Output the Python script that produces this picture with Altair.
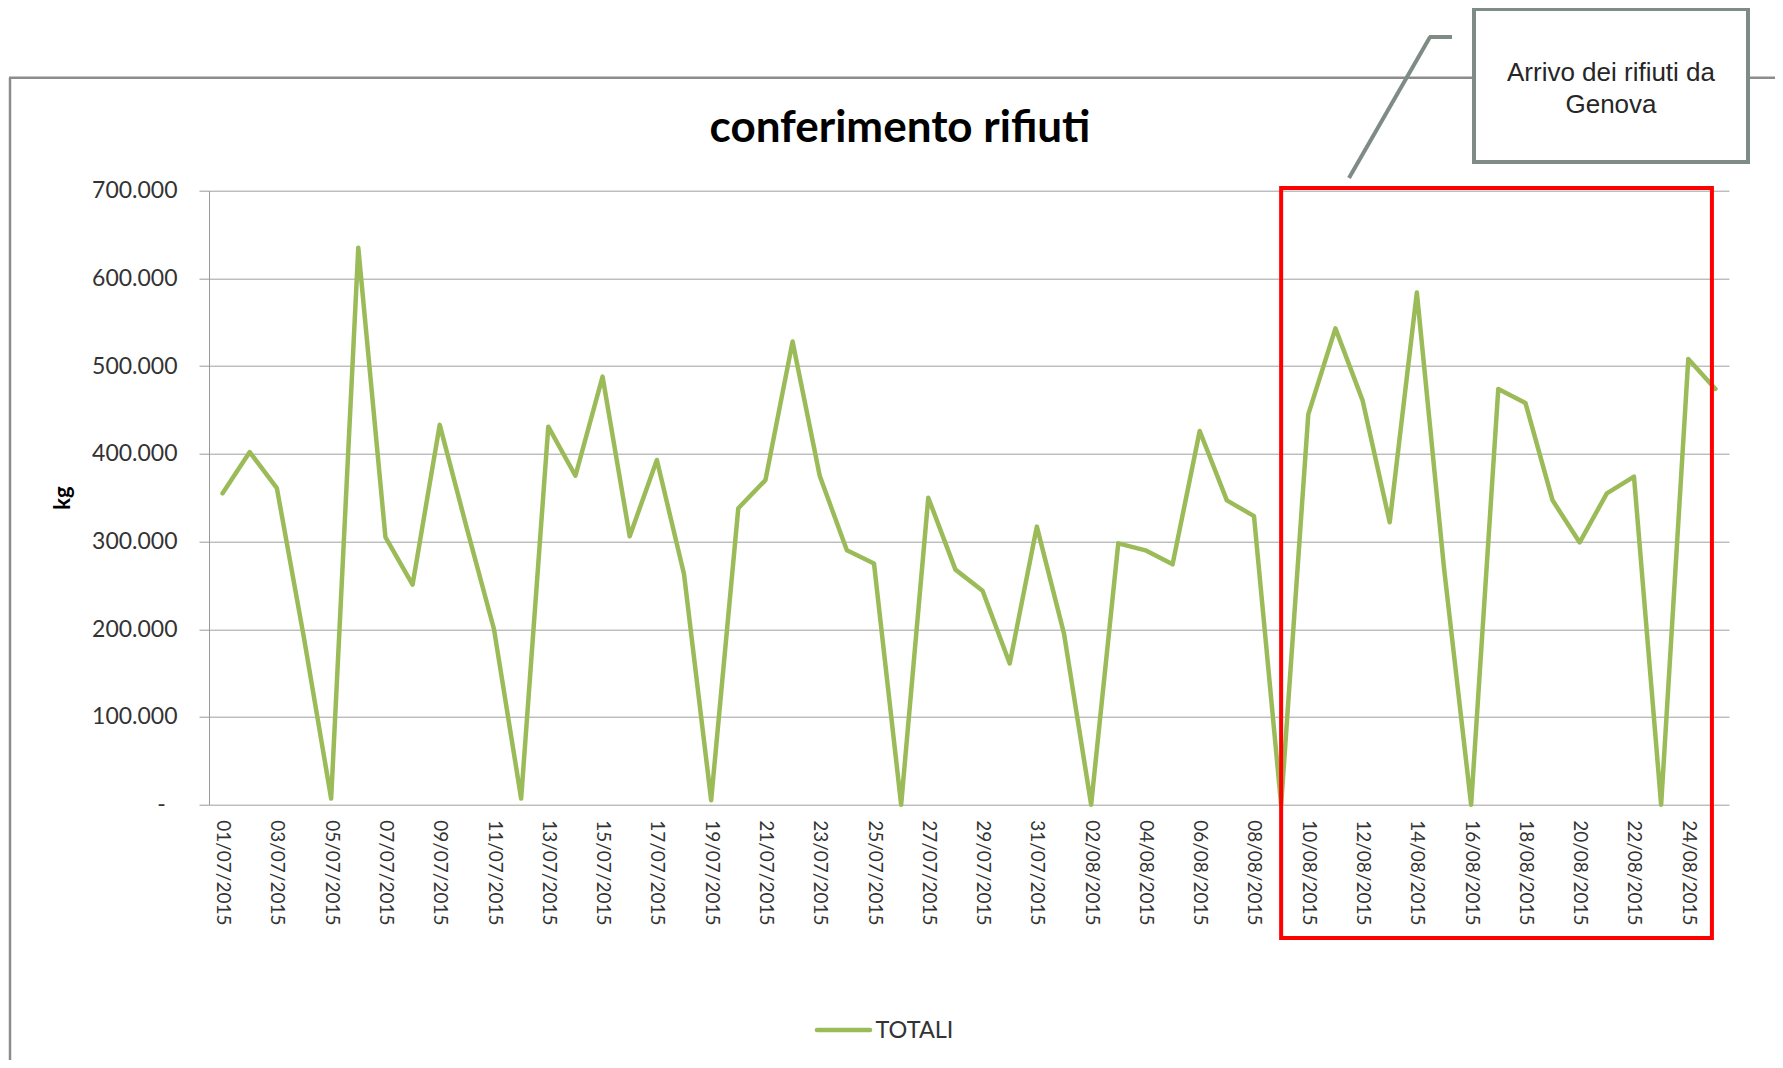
import altair as alt
import pandas as pd

# ---- data -------------------------------------------------------------
dates_july = [f"{d:02d}/07/2015" for d in range(1, 32)]
dates_august = [f"{d:02d}/08/2015" for d in range(1, 26)]
dates = dates_july + dates_august

totali_july = [355000, 402000, 361000, 190000, 7000, 635000, 305000, 251000,
               433000, 315000, 200000, 7000, 431000, 375000, 488000, 306000,
               393000, 263000, 5000, 338000, 370000, 528000, 375000, 290000,
               275000, 0, 350000, 268000, 244000, 161000, 317000]
totali_august = [195000, 0, 298000, 290000, 274000, 426000, 347000, 329000,
                 0, 445000, 543000, 461000, 322000, 584000, 270000, 0,
                 474000, 458000, 347000, 299000, 355000, 374000, 0, 508000,
                 474000]
totali = totali_july + totali_august

tick_labels = dates[::2]
y_ticks = [0, 100000, 200000, 300000, 400000, 500000, 600000, 700000]

title_text = "conferimento rifiuti"
series_name = "TOTALI"
y_title = "kg"
callout_lines = ["Arrivo dei rifiuti da", "Genova"]
highlight = {"start": "09/08/2015", "end": "25/08/2015", "top": 703000, "bottom": -152000}

df = pd.DataFrame({"data": dates, series_name: totali})
box_df = pd.DataFrame({"data": [highlight["start"]], "x2": [highlight["end"]],
                       series_name: [highlight["top"]], "y2": [highlight["bottom"]]})
one = pd.DataFrame({"k": [0]})

GREEN = "#9BBB59"
GREY = "#7F8B85"
FONT = "Lato"

x_scale = alt.Scale(type="point", padding=0.5, domain=dates)
y_scale = alt.Scale(domain=[0, 700000], nice=False, zero=True)

x_axis = alt.Axis(values=tick_labels, labelAngle=90, domain=False, ticks=False,
                  grid=False, labelPadding=15, labelFont=FONT, labelFontSize=19,
                  labelColor="#333333", labelOverlap=False, labelFlush=False,
                  title=None)
y_axis = alt.Axis(values=y_ticks,
                  labelExpr="datum.value == 0 ? '-\u00a0\u00a0\u200b' : format(datum.value / 1000, '.0f') + '.000'",
                  labelFont=FONT, labelFontSize=23, labelColor="#333333",
                  labelPadding=22, tickSize=10, tickColor="#999999",
                  domainColor="#999999", gridColor="#A0A0A0", gridWidth=1,
                  grid=True, title=y_title, titleFont=FONT, titleFontSize=22,
                  titleFontWeight="bold", titleColor="#000000",
                  titleX=-146.5, titleY=307, titleAngle=270,
                  titleAlign="center", titleBaseline="middle")

line = alt.Chart(df).mark_line(
    color=GREEN, strokeWidth=4.5, strokeJoin="round", strokeCap="round"
).encode(
    x=alt.X("data:O", sort=dates, scale=x_scale, axis=x_axis),
    y=alt.Y(f"{series_name}:Q", scale=y_scale, axis=y_axis),
)

red_box = alt.Chart(box_df).mark_rect(
    fillOpacity=0, stroke="#FF0000", strokeWidth=4, x2Offset=-3.5
).encode(
    x=alt.X("data:O", sort=dates, scale=x_scale, axis=x_axis),
    x2="x2",
    y=alt.Y(f"{series_name}:Q", scale=y_scale, axis=y_axis),
    y2="y2",
)

border_left = alt.Chart(one).mark_rule(color="#8C8C8C", strokeWidth=2.5).encode(
    x=alt.value(-199), y=alt.value(-113), y2=alt.value(880))
border_top = alt.Chart(one).mark_rule(color="#8C8C8C", strokeWidth=2.5).encode(
    x=alt.value(-200), x2=alt.value(1580), y=alt.value(-113))

title = alt.Chart(one).mark_text(
    text=title_text, font=FONT, fontSize=44, fontWeight="bold", color="#000000",
    align="center", baseline="alphabetic"
).encode(x=alt.value(691), y=alt.value(-49))

leader1 = alt.Chart(one).mark_rule(color=GREY, strokeWidth=4).encode(
    x=alt.value(1140), y=alt.value(-12.7), x2=alt.value(1221), y2=alt.value(-153.7))
leader2 = alt.Chart(one).mark_rule(color=GREY, strokeWidth=4).encode(
    x=alt.value(1220), x2=alt.value(1243), y=alt.value(-153.7))

callout_box = alt.Chart(one).mark_rect(
    fill="white", stroke=GREY, strokeWidth=4
).encode(x=alt.value(1265), x2=alt.value(1539), y=alt.value(-181.7), y2=alt.value(-28.7))

callout_t1 = alt.Chart(one).mark_text(
    text=callout_lines[0], font="Liberation Sans", fontSize=26, color="#262626",
    align="center", baseline="alphabetic"
).encode(x=alt.value(1402), y=alt.value(-110))
callout_t2 = alt.Chart(one).mark_text(
    text=callout_lines[1], font="Liberation Sans", fontSize=26, color="#262626",
    align="center", baseline="alphabetic"
).encode(x=alt.value(1402), y=alt.value(-78))

legend_line = alt.Chart(one).mark_rule(color=GREEN, strokeWidth=4.5, strokeCap="round").encode(
    x=alt.value(608), x2=alt.value(661), y=alt.value(839.3))
legend_text = alt.Chart(one).mark_text(
    text=series_name, font=FONT, fontSize=23.5, color="#333333",
    align="left", baseline="alphabetic"
).encode(x=alt.value(666.5), y=alt.value(847.5))

chart = alt.layer(
    border_left, border_top, line, red_box, title, leader1, leader2,
    callout_box, callout_t1, callout_t2, legend_line, legend_text
).properties(
    width=1520, height=614,
    autosize=alt.AutoSizeParams(type="none"),
    padding={"left": 201, "top": 182.7, "right": 46, "bottom": 255},
    background="white",
).configure_view(stroke=None)

chart.save("out.html", embed_options={"renderer": "svg", "actions": False})
